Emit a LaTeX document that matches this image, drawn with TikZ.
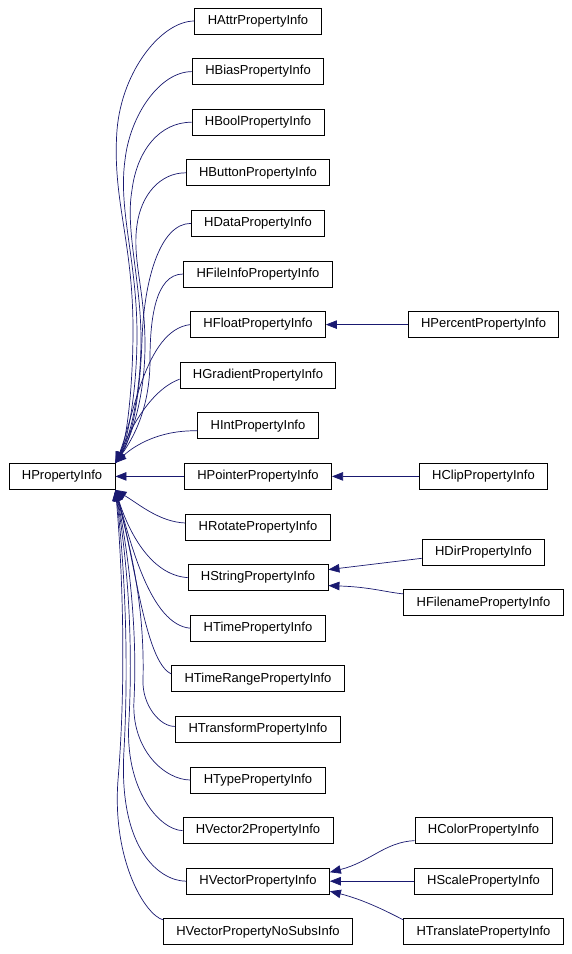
\documentclass[tikz,border=0pt]{standalone}
\usepackage{fontspec}
\setmainfont{Liberation Sans}
\usetikzlibrary{arrows.meta}
\definecolor{navyc}{RGB}{25,25,112}
\tikzset{
  box/.style={draw=black, fill=white, line width=0.9pt, inner xsep=12.9pt, inner ysep=0pt,
    minimum height=26pt, font=\fontsize{13}{15}\selectfont, anchor=center},
  edge/.style={draw=navyc, line width=0.7pt, {Triangle[length=11pt,width=8.5pt]}-}
}
\begin{document}
\begin{tikzpicture}[x=1pt,y=-1pt]
\useasboundingbox[fill=white] (0,0) rectangle (572,954);
% parent
\node[box] (P) at (62,476.4) {HPropertyInfo};
% column 2
\node[box] (HAttr) at (258,21) {HAttrPropertyInfo};
\node[box] (HBias) at (258,71.6) {HBiasPropertyInfo};
\node[box] (HBool) at (258,122.2) {HBoolPropertyInfo};
\node[box] (HButton) at (258,172.8) {HButtonPropertyInfo};
\node[box] (HData) at (258,223.4) {HDataPropertyInfo};
\node[box] (HFileInfo) at (258,274) {HFileInfoPropertyInfo};
\node[box] (HFloat) at (258,324.6) {HFloatPropertyInfo};
\node[box] (HGradient) at (258,375.2) {HGradientPropertyInfo};
\node[box] (HInt) at (258,425.8) {HIntPropertyInfo};
\node[box] (HPointer) at (258,476.4) {HPointerPropertyInfo};
\node[box] (HRotate) at (258,527) {HRotatePropertyInfo};
\node[box] (HString) at (258,577.6) {HStringPropertyInfo};
\node[box] (HTime) at (258,628.2) {HTimePropertyInfo};
\node[box] (HTimeRange) at (258,678.8) {HTimeRangePropertyInfo};
\node[box] (HTransform) at (258,729.4) {HTransformPropertyInfo};
\node[box] (HType) at (258,780) {HTypePropertyInfo};
\node[box] (HVector2) at (258,830.6) {HVector2PropertyInfo};
\node[box] (HVector) at (258,881.2) {HVectorPropertyInfo};
\node[box] (HVNoSubs) at (258,931.8) {HVectorPropertyNoSubsInfo};
% column 3
\node[box] (HPercent) at (483.5,324.6) {HPercentPropertyInfo};
\node[box] (HClip) at (483.5,476.4) {HClipPropertyInfo};
\node[box] (HDir) at (483.5,552.3) {HDirPropertyInfo};
\node[box] (HFilename) at (483.5,602.9) {HFilenamePropertyInfo};
\node[box] (HColor) at (483.5,830.6) {HColorPropertyInfo};
\node[box] (HScale) at (483.5,881.2) {HScalePropertyInfo};
\node[box] (HTranslate) at (483.5,931.8) {HTranslatePropertyInfo};

% upper edges
\draw[edge] (P.north east) .. controls (127,440) and (133,385) .. (133,330)
  .. controls (133,240) and (112,200) .. (117,130) .. controls (122,70) and (162,21) .. (HAttr.west);
\draw[edge] (P.north east) .. controls (128,440) and (137,390) .. (137,335)
  .. controls (137,260) and (118,210) .. (125,160) .. controls (130,115) and (160,71.6) .. (HBias.west);
\draw[edge] (P.north east) .. controls (129,440) and (141,395) .. (141,340)
  .. controls (141,280) and (125,230) .. (132,190) .. controls (137,150) and (160,122.2) .. (HBool.west);
\draw[edge] (P.north east) .. controls (130,440) and (145,400) .. (145,345)
  .. controls (145,290) and (132,260) .. (137,225) .. controls (141,195) and (160,172.8) .. (HButton.west);
\draw[edge] (P.north east) .. controls (131,440) and (140,400) .. (142,340)
  .. controls (144,280) and (160,223.4) .. (HData.west);
\draw[edge] (P.north east) .. controls (132,440) and (150,410) .. (150,360)
  .. controls (150,320) and (155,274) .. (HFileInfo.west);
\draw[edge] (P.north east) .. controls (133,420) and (145,330) .. (HFloat.west);
\draw[edge] (P.north east) .. controls (130,430) and (150,390) .. ([yshift=-4pt]HGradient.west);
\draw[edge] (P.north east) .. controls (135,445) and (160,430) .. ([yshift=-5pt]HInt.west);
% straight
\draw[edge] (P.east) -- (HPointer.west);
% lower edges
\draw[edge] (P.south east) .. controls (140,505) and (160,522) .. ([yshift=4pt]HRotate.west);
\draw[edge] (P.south east) .. controls (128,530) and (150,575) .. (HString.west);
\draw[edge] (P.south east) .. controls (130,540) and (150,625) .. (HTime.west);
\draw[edge] (P.south east) .. controls (135,560) and (145,662) .. ([yshift=5pt]HTimeRange.west);
\draw[edge] (P.south east) .. controls (128,540) and (145,600) .. (143,680)
  .. controls (142,705) and (160,727) .. ([yshift=3pt]HTransform.west);
\draw[edge] (P.south east) .. controls (126,540) and (138,620) .. (134,700)
  .. controls (131,750) and (165,780) .. (HType.west);
\draw[edge] (P.south east) .. controls (124,540) and (134,620) .. (129,720)
  .. controls (124,790) and (160,830) .. (HVector2.west);
\draw[edge] (P.south east) .. controls (122,540) and (130,640) .. (124,750)
  .. controls (118,850) and (160,881) .. (HVector.west);
\draw[edge] (P.south east) .. controls (120,540) and (128,660) .. (118,780)
  .. controls (112,860) and (145,915) .. ([yshift=12pt]HVNoSubs.west);
% column 3 edges
\draw[edge] (HFloat.east) -- (HPercent.west);
\draw[edge] (HPointer.east) -- (HClip.west);
\draw[edge] ([yshift=8pt]HString.east) -- ([yshift=-6pt]HDir.west);
\draw[edge] ([yshift=-8pt]HString.east) .. controls (370,587) and (385,592) .. ([yshift=9pt]HFilename.west);
\draw[edge] ([yshift=9pt]HVector.east) .. controls (370,862) and (385,842) .. ([yshift=-10pt]HColor.west);
\draw[edge] (HVector.east) -- (HScale.west);
\draw[edge] ([yshift=-10pt]HVector.east) .. controls (365,900) and (390,913) .. ([yshift=12pt]HTranslate.west);
\end{tikzpicture}
\end{document}
